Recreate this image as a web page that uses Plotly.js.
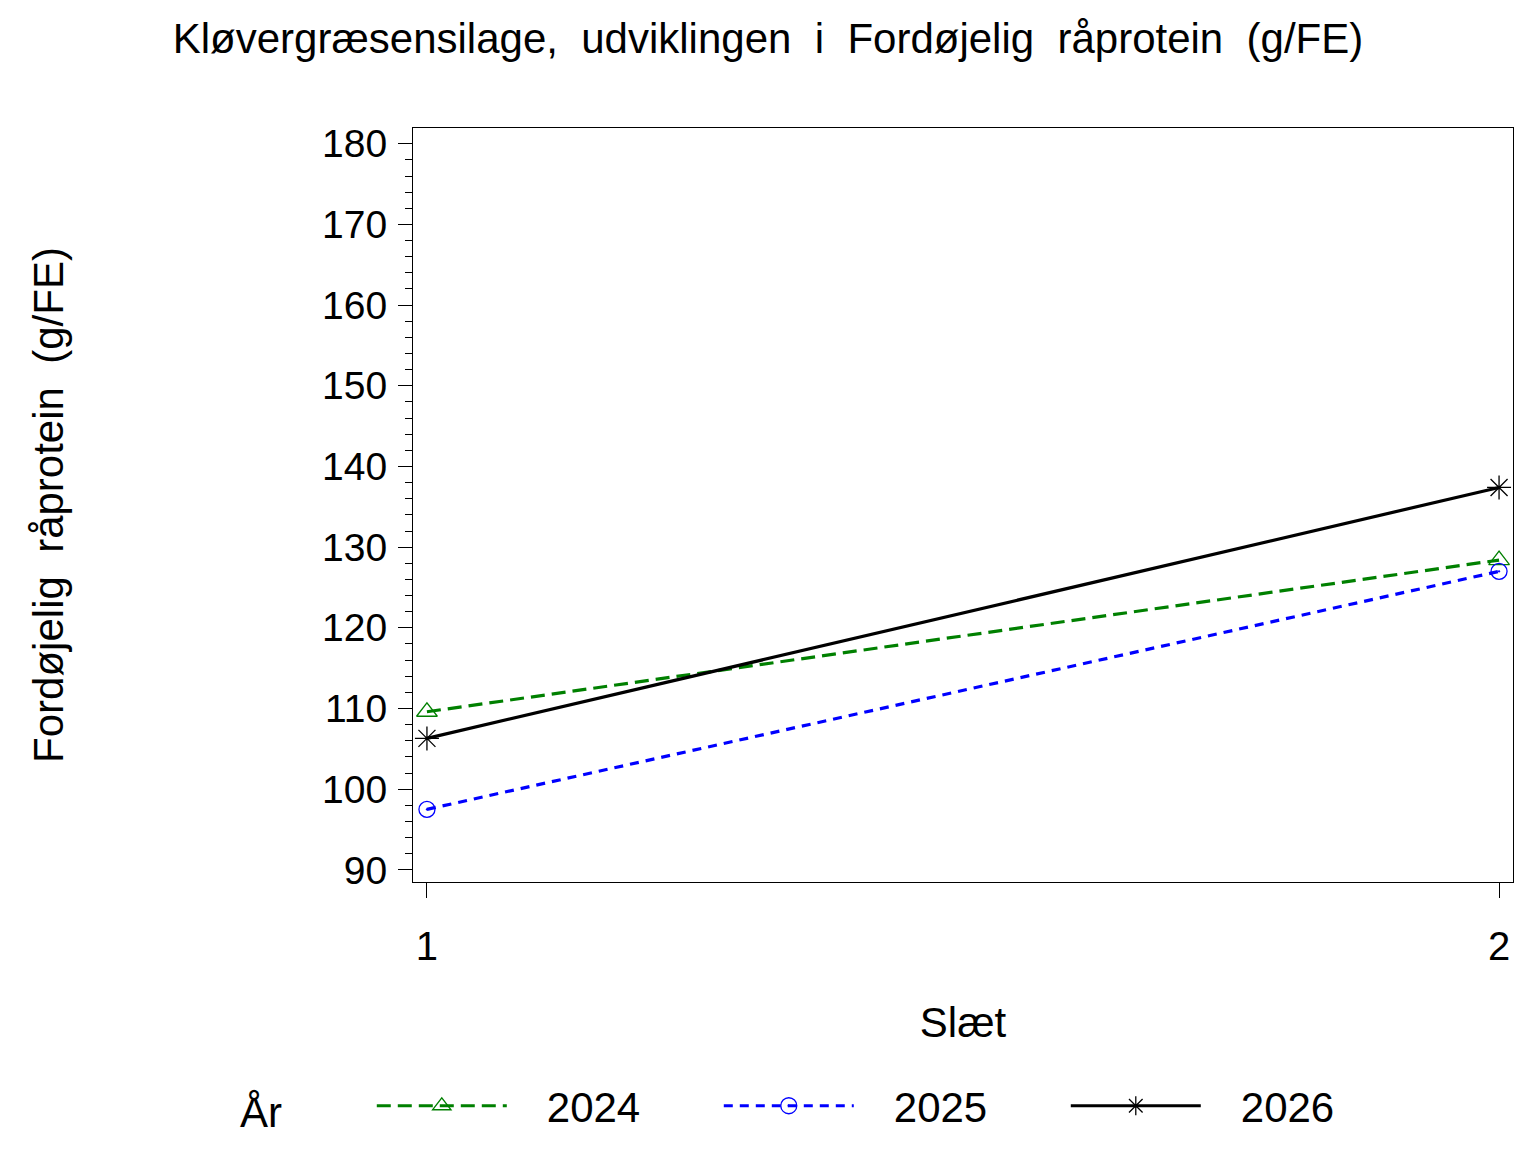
<!DOCTYPE html>
<html>
<head>
<meta charset="utf-8">
<script src="https://cdn.plot.ly/plotly-3.0.1.min.js"></script>
<style>
  html, body { margin: 0; padding: 0; background: #fff; }
  #plot { width: 1536px; height: 1152px; }
</style>
</head>
<body>
<div id="plot"></div>
<script>
// Data
const slaet = [1, 2];
const years = ['2024', '2025', '2026'];
const fdRaaprotein = {
  '2024': [109.6, 128.4],
  '2025': [97.5, 127.0],
  '2026': [106.3, 137.4]
};
const yTicks = [90, 100, 110, 120, 130, 140, 150, 160, 170, 180];

const NB = '\u00a0';
const font = 'Liberation Sans, Arial, sans-serif';

// Helpers
function makeSeries(name, y, color, dash, symbol, size) {
  return {
    x: slaet, y,
    type: 'scatter',
    mode: 'lines+markers',
    name: NB.repeat(3) + name,
    line: { color, width: 3.2, dash },
    marker: { symbol, size, color, line: { color, width: 1.3 } },
    hoverinfo: 'x+y+name'
  };
}

const traces = [
  makeSeries(years[0], fdRaaprotein['2024'], '#008000', '14px,7px', 'triangle-up-open', 18),
  makeSeries(years[1], fdRaaprotein['2025'], '#0000ff', '9px,7px', 'circle-open-dot', 16),
  makeSeries(years[2], fdRaaprotein['2026'], '#000000', 'solid', 'asterisk-open', 20)
];

const layout = {
  width: 1536, height: 1152,
  paper_bgcolor: '#fff', plot_bgcolor: '#fff',
  font: { family: font, color: '#000', size: 38 },
  margin: { l: 413, r: 23, t: 128, b: 267 },
  title: {
    text: ['Kløvergræsensilage,', 'udviklingen', 'i', 'Fordøjelig', 'råprotein', '(g/FE)'].join(NB + NB),
    font: { size: 42, family: font, color: '#000' },
    x: 0.5, xanchor: 'center', xref: 'container',
    y: 0.967, yanchor: 'middle', yref: 'container'
  },
  xaxis: {
    range: [0.987, 2.013],
    tickvals: slaet,
    ticktext: slaet.map(String),
    ticks: 'outside', ticklen: 15, tickwidth: 1, tickcolor: '#000',
    ticklabelstandoff: 14,
    showline: true, linecolor: '#000', linewidth: 1, mirror: true,
    showgrid: false, zeroline: false,
    tickfont: { size: 40 },
    title: { text: 'Slæt', font: { size: 42 }, standoff: 40 },
    automargin: false
  },
  yaxis: {
    range: [88.5, 181.95],
    tickvals: yTicks,
    ticks: 'outside', ticklen: 14, tickwidth: 1, tickcolor: '#000',
    ticklabelstandoff: 3,
    minor: { dtick: 2, ticks: 'outside', ticklen: 7, tickwidth: 1, tickcolor: '#000', showgrid: false },
    showline: true, linecolor: '#000', linewidth: 1, mirror: true,
    showgrid: false, zeroline: false,
    tickfont: { size: 39 },
    title: {
      text: ['Fordøjelig', 'råprotein', '(g/FE)'].join(NB + NB),
      font: { size: 42 }, standoff: 245
    },
    automargin: false
  },
  showlegend: true,
  legend: {
    orientation: 'h',
    x: -0.159, xanchor: 'left',
    y: -0.297, yanchor: 'middle',
    title: { text: 'År' + NB.repeat(7), font: { size: 42 } },
    font: { size: 42, family: font, color: '#000' },
    itemwidth: 130,
    entrywidth: 202, entrywidthmode: 'pixels',
    bgcolor: 'rgba(0,0,0,0)',
    traceorder: 'normal'
  },
  hovermode: 'closest'
};

Plotly.newPlot('plot', traces, layout, { displayModeBar: false, responsive: false });
</script>
</body>
</html>
